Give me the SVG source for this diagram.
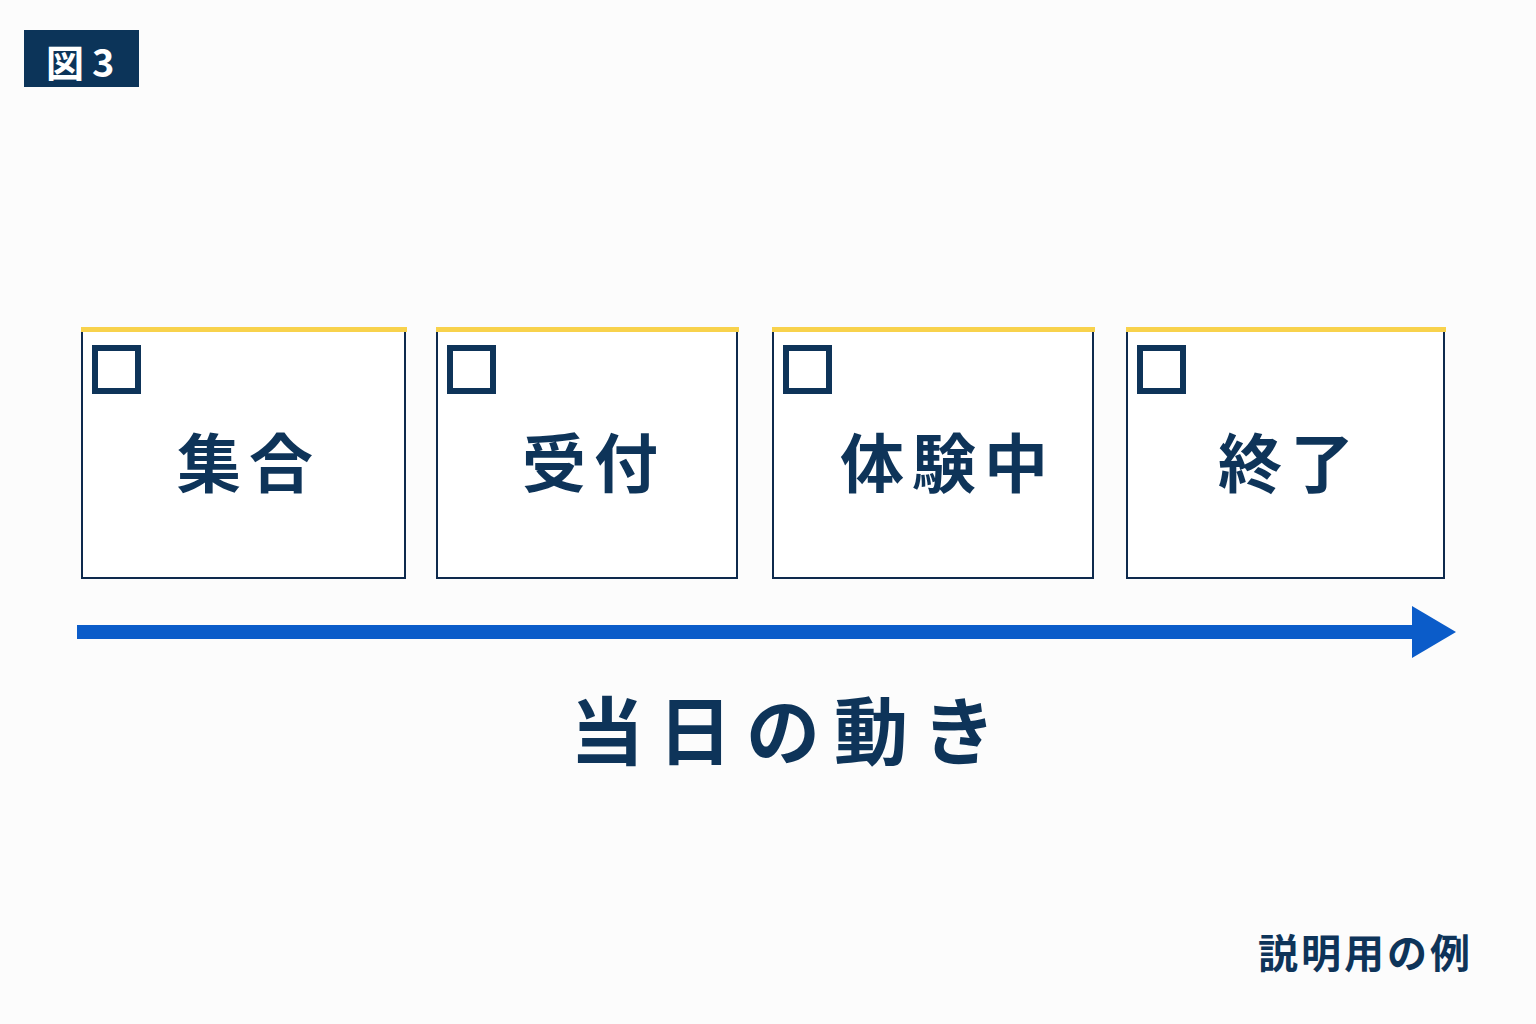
<svg xmlns="http://www.w3.org/2000/svg" width="1536" height="1024" viewBox="0 0 1536 1024">
<style>
.jp{font-family:"Noto Sans CJK JP","Noto Sans",sans-serif;font-weight:700;fill:#0e3459}
.box{fill:#ffffff;stroke:#0e2a4d;stroke-width:2}
.bar{fill:#f8d24c}
.chk{fill:none;stroke:#0e3459;stroke-width:6}
.lbl{font-size:64px;letter-spacing:8px;text-anchor:middle}
</style>
<rect width="1536" height="1024" fill="#fcfcfc"/>
<g id="title">
<rect x="24" y="30" width="115" height="57" fill="#0c3459"/>
<text x="46" y="77" class="jp" style="fill:#ffffff;font-size:38px">図<tspan dx="8">3</tspan></text>
</g>
<g id="node-1">
<rect class="box" x="82" y="330" width="323" height="248"/>
<rect class="bar" x="81" y="327" width="326" height="5"/>
<rect class="chk" x="95" y="348" width="43" height="43"/>
<text class="jp lbl" x="249" y="487">集合</text>
</g>
<g id="node-2">
<rect class="box" x="437" y="330" width="300" height="248"/>
<rect class="bar" x="436" y="327" width="303" height="5"/>
<rect class="chk" x="450" y="348" width="43" height="43"/>
<text class="jp lbl" x="594" y="487">受付</text>
</g>
<g id="node-3">
<rect class="box" x="773" y="330" width="320" height="248"/>
<rect class="bar" x="772" y="327" width="323" height="5"/>
<rect class="chk" x="786" y="348" width="43" height="43"/>
<text class="jp lbl" x="948" y="487">体験中</text>
</g>
<g id="node-4">
<rect class="box" x="1127" y="330" width="317" height="248"/>
<rect class="bar" x="1126" y="327" width="320" height="5"/>
<rect class="chk" x="1140" y="348" width="43" height="43"/>
<text class="jp lbl" x="1290" y="487">終了</text>
</g>
<g id="connectors">
<rect x="77" y="625" width="1337" height="14" fill="#0b5cc9"/>
<polygon points="1412,606 1456,632 1412,658" fill="#0b5cc9"/>
</g>
<g id="caption">
<text class="jp" x="790" y="759" style="font-size:74px;letter-spacing:14px;text-anchor:middle">当日の動き</text>
</g>
<g id="note">
<text class="jp" x="1258" y="968" style="font-size:40px;letter-spacing:3px">説明用の例</text>
</g>
</svg>
